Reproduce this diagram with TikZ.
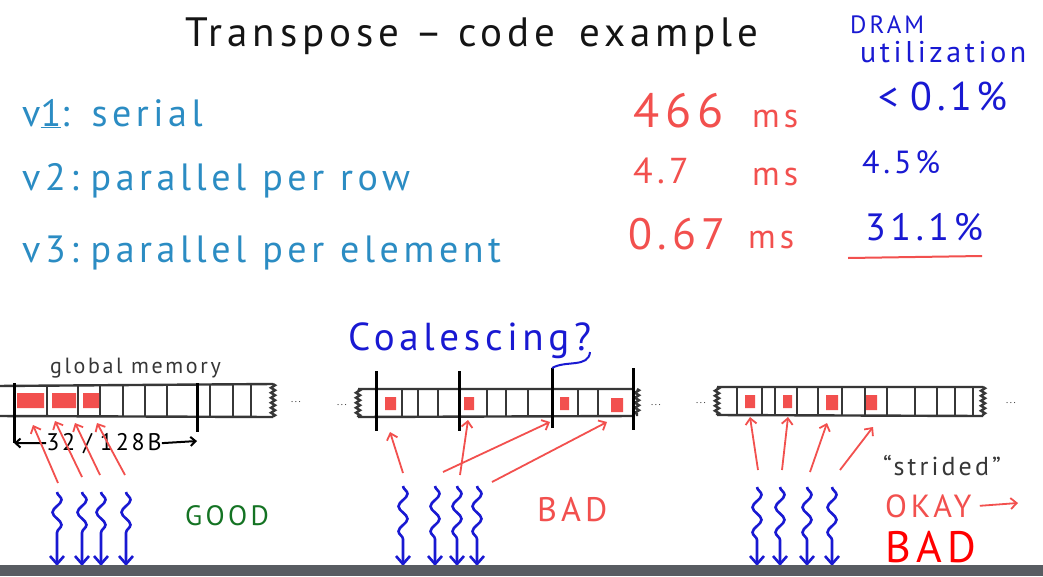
\documentclass[tikz,border=0pt]{standalone}
\usepackage{fontspec}
\setmainfont{PT Sans}
\newfontfamily\hand[LetterSpace=12]{PT Sans}
\usetikzlibrary{arrows.meta,decorations.pathmorphing}
\definecolor{inkblack}{RGB}{20,20,20}
\definecolor{inkgray}{RGB}{55,55,55}
\definecolor{inkteal}{RGB}{43,140,195}
\definecolor{inkred}{RGB}{242,80,78}
\definecolor{inkblue}{RGB}{25,25,210}
\definecolor{inkgreen}{RGB}{20,115,35}
\definecolor{bargray}{RGB}{88,92,98}
\tikzset{
handtxt/.style={font=\hand\fontsize{#1}{#1}\selectfont, inner sep=0pt, anchor=base west},
memline/.style={draw=inkgray, line width=2.4pt},
membar/.style={draw=black, line width=3pt},
memjag/.style={memline, decorate, decoration={zigzag, amplitude=2pt, segment length=5pt}},
hit/.style={fill=inkred},
fetch/.style={draw=inkred, line width=1.8pt, -{Straight Barb[length=6pt,width=11pt]}},
dimarrow/.style={draw=black, line width=2pt, -{Straight Barb[length=5pt,width=9pt]}},
thread/.style={draw=inkblue, line width=2.6pt, decorate,
  decoration={snake, amplitude=4.5pt, segment length=25pt, post length=22pt},
  -{Straight Barb[length=8pt,width=14pt]}}
}

\begin{document}
\begin{tikzpicture}[x=1pt, y=-1pt]
\useasboundingbox (0,0) rectangle (1043,576);
\fill[white] (0,0) rectangle (1043,576);

% heading and the three versions
\node[handtxt=41, text=inkblack] (title) at (185,46) {Transpose\hspace{16pt}–\hspace{16pt}code\hspace{24pt}example};
\node[handtxt=25, text=inkblue] (dram) at (850,33) {DRAM};
\node[handtxt=30, text=inkblue] (util) at (860,62) {utilization};

\node[handtxt=38, text=inkteal] (v1) at (22,126) {v\underline{1}:\hspace{22pt}serial};
\node[handtxt=38, text=inkteal] (v2) at (22,190) {v2:\hspace{12pt}parallel\hspace{16pt}per\hspace{16pt}row};
\node[handtxt=38, text=inkteal] (v3) at (22,262) {v3:\hspace{12pt}parallel\hspace{16pt}per\hspace{16pt}element};

\node[handtxt=48, text=inkred] (t1) at (633,127) {466};
\node[handtxt=34, text=inkred] (t1ms) at (752,127) {ms};
\node[handtxt=36, text=inkred] (t2) at (633,183) {4.7};
\node[handtxt=34, text=inkred] (t2ms) at (752,185) {ms};
\node[handtxt=44, text=inkred] (t3) at (628,249) {0.67};
\node[handtxt=34, text=inkred] (t3ms) at (748,248) {ms};

\node[handtxt=40, text=inkblue] (u1) at (878,110) {<\hspace{12pt}0.1\%};
\node[handtxt=32, text=inkblue] (u2) at (862,173) {4.5\%};
\node[handtxt=38, text=inkblue] (u3) at (865,240) {31.1\%};
\draw[draw=inkred, line width=2pt] (848,258) coordinate (ul1) -- (982,256) coordinate (ul2);

% global memory, coalesced
\node[handtxt=22, text=inkgray] (gmem) at (50,373) {global memory};
\draw[memline] (-4,386) -- (273,384) (-4,416) -- (273,417);
\foreach \x in {47,78,100,123,145,167,210,233,251}
  \draw[memline] (\x,385) -- (\x,416);
\draw[memjag] (273,384) -- (273,417);
\fill[hit] (17,393) rectangle (44,408) (52,393) rectangle (76,408) (83,393) rectangle (99,408);
\draw[membar] (14,383) -- (14,443) coordinate (m1l);
\draw[membar] (197,383) -- (197,432);
\coordinate (m1r) at (197,441);
\node[text=inkgray] (dots1) at (296,402) {.\,.\,.};
\node[handtxt=24, text=black, anchor=base] (seg) at (104,450) {32\hspace{8pt}/\hspace{8pt}128B};
\draw[dimarrow] (seg.west) -- (m1l);
\draw[dimarrow] (seg.east) -- (m1r);
\foreach \i/\sx/\sy/\tx/\ty in {1/58/483/33/425, 2/82/477/55/421, 3/100/475/75/423, 4/125/475/97/423}{
  \coordinate (a\i) at (\sx,\sy);
  \coordinate (b\i) at (\tx,\ty);
  \draw[fetch] (a\i) -- (b\i);
}
\foreach \x [count=\i] in {57,82,101,126}{
  \coordinate (s\i) at (\x,492);
  \coordinate (e\i) at (\x,566);
  \draw[thread] (s\i) -- (e\i);
}
\node[handtxt=28, text=inkgreen] (good) at (185,525) {GOOD};

% global memory, spread out
\node[handtxt=39, text=inkblue] (coal) at (348,350) {Coalescing?};
\node[text=inkgray] (dots2) at (342,405) {.\,.\,.};
\draw[memline] (358,389) -- (633,389) (358,417) -- (633,416);
\draw[memjag] (358,389) -- (358,417);
\draw[memjag] (637,389) -- (637,416);
\foreach \x in {402,418,438,487,506,528,578,598}
  \draw[memline] (\x,389) -- (\x,417);
\fill[hit] (385,397) rectangle (396,410) (464,397) rectangle (474,410) (560,397) rectangle (569,410) (611,398) rectangle (623,412);
\draw[membar] (376,371) -- (376,431);
\draw[membar] (459,371) -- (459,431);
\draw[membar] (552,368) coordinate (m2c) -- (552,428);
\draw[membar] (633,368) -- (633,430);
\node[text=inkgray] (dots3) at (656,405) {.\,.\,.};
\coordinate (qtail) at (590,352);
\draw[draw=inkblue, line width=2pt] (qtail) to[out=-95, in=30] (m2c);
\foreach \i/\sx/\sy/\tx/\ty in {1/403/473/390/432, 2/460/475/468/420, 3/443/472/550/422, 4/492/482/607/422}{
  \coordinate (c\i) at (\sx,\sy);
  \coordinate (d\i) at (\tx,\ty);
  \draw[fetch] (c\i) -- (d\i);
}
\foreach \x [count=\i] in {403,435,457,477}{
  \coordinate (p\i) at (\x,486);
  \coordinate (q\i) at (\x,566);
  \draw[thread] (p\i) -- (q\i);
}
\node[handtxt=34, text=inkred] (bad1) at (537,521) {BAD};

% global memory, strided
\node[text=inkgray] (dots4) at (701,403) {.\,.\,.};
\draw[memline] (717,387) -- (983,387) (717,415) -- (983,416);
\draw[memjag] (717,387) -- (717,415);
\draw[memjag] (983,387) -- (983,416);
\foreach \x in {737,762,775,797,818,842,865,887,915,937,955,973}
  \draw[memline] (\x,387) -- (\x,415);
\fill[hit] (745,395) rectangle (755,408) (783,395) rectangle (792,408) (826,395) rectangle (838,410) (866,395) rectangle (877,410);
\node[text=inkgray] (dots5) at (1011,403) {.\,.\,.};
\foreach \i/\sx/\sy/\tx/\ty in {1/758/470/750/417, 2/782/470/788/417, 3/810/472/827/423, 4/840/470/873/427}{
  \coordinate (f\i) at (\sx,\sy);
  \coordinate (g\i) at (\tx,\ty);
  \draw[fetch] (f\i) -- (g\i);
}
\foreach \x [count=\i] in {757,780,807,832}{
  \coordinate (k\i) at (\x,487);
  \coordinate (l\i) at (\x,566);
  \draw[thread] (k\i) -- (l\i);
}
\node[handtxt=26, text=inkgray] (strided) at (883,475) {“strided”};
\node[handtxt=32, text=inkred] (okay) at (885,517) {OKAY};
\coordinate (okend) at (1018,503);
\draw[fetch] ([xshift=8pt]okay.east) -- (okend);
\node[handtxt=44, text=red] (bad2) at (885,562) {BAD};

% player bar
\fill[bargray] (0,565) rectangle (1043,576);
\end{tikzpicture}
\end{document}
